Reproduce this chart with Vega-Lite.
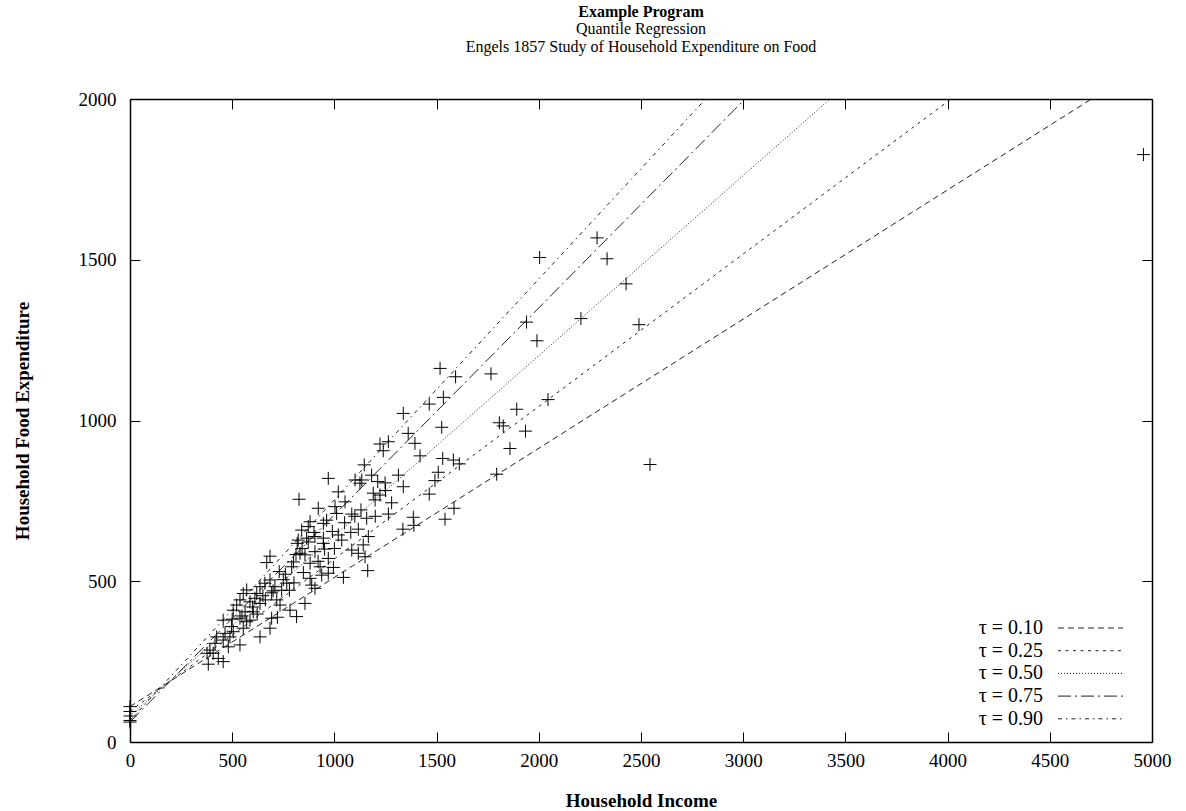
{
  "$schema": "https://vega.github.io/schema/vega-lite/v6.json",
  "width": 1022,
  "height": 643,
  "autosize": {"type": "none"},
  "padding": {"left": 130, "top": 99, "right": 34, "bottom": 69},
  "background": "white",
  "config": {"view": {"stroke": null}, "font": "Liberation Serif"},
  "title": {
    "text": "Example Program",
    "subtitle": ["Quantile Regression", "Engels 1857 Study of Household Expenditure on Food"],
    "font": "Liberation Serif", "fontSize": 16, "fontWeight": "bold", "color": "black",
    "subtitleFont": "Liberation Serif", "subtitleFontSize": 16, "subtitleColor": "black",
    "subtitlePadding": 1, "subtitleLineHeight": 18, "offset": 35, "anchor": "middle", "frame": "group"
  },
  "datasets": {
    "lines": [
      {"tau": "τ = 0.10", "income": 0, "food": 110.14},
      {"tau": "τ = 0.10", "income": 4704, "food": 2000},
      {"tau": "τ = 0.25", "income": 0, "food": 95.48},
      {"tau": "τ = 0.25", "income": 4017, "food": 2000},
      {"tau": "τ = 0.50", "income": 0, "food": 81.48},
      {"tau": "τ = 0.50", "income": 3425, "food": 2000},
      {"tau": "τ = 0.75", "income": 0, "food": 62.4},
      {"tau": "τ = 0.75", "income": 3009, "food": 2000},
      {"tau": "τ = 0.90", "income": 0, "food": 67.35},
      {"tau": "τ = 0.90", "income": 2816, "food": 2000}
    ],
    "points": [
      {"income": 0, "food": 110}, {"income": 0, "food": 95}, {"income": 0, "food": 81}, {"income": 0, "food": 67}, {"income": 0, "food": 62},
      {"income": 818, "food": 618}, {"income": 812, "food": 583}, {"income": 685, "food": 578}, {"income": 669, "food": 558},
      {"income": 730, "food": 530}, {"income": 791, "food": 545}, {"income": 767, "food": 494}, {"income": 802, "food": 495},
      {"income": 685, "food": 504}, {"income": 709, "food": 483}, {"income": 636, "food": 483}, {"income": 571, "food": 473},
      {"income": 554, "food": 462}, {"income": 693, "food": 464}, {"income": 611, "food": 447}, {"income": 587, "food": 436},
      {"income": 636, "food": 431}, {"income": 538, "food": 442}, {"income": 522, "food": 426}, {"income": 718, "food": 442},
      {"income": 734, "food": 426}, {"income": 783, "food": 410}, {"income": 815, "food": 390}, {"income": 693, "food": 385},
      {"income": 721, "food": 388}, {"income": 685, "food": 354}, {"income": 505, "food": 410}, {"income": 563, "food": 405},
      {"income": 603, "food": 405}, {"income": 456, "food": 379}, {"income": 538, "food": 385}, {"income": 571, "food": 374},
      {"income": 497, "food": 359}, {"income": 554, "food": 354}, {"income": 636, "food": 327}, {"income": 424, "food": 327},
      {"income": 489, "food": 327}, {"income": 456, "food": 317}, {"income": 416, "food": 307}, {"income": 538, "food": 302},
      {"income": 481, "food": 296}, {"income": 377, "food": 276}, {"income": 407, "food": 276}, {"income": 432, "food": 260},
      {"income": 456, "food": 250}, {"income": 383, "food": 242}, {"income": 391, "food": 286}, {"income": 505, "food": 343},
      {"income": 465, "food": 338}, {"income": 587, "food": 379}, {"income": 620, "food": 462}, {"income": 660, "food": 494},
      {"income": 881, "food": 556}, {"income": 930, "food": 545}, {"income": 995, "food": 543}, {"income": 848, "food": 527},
      {"income": 938, "food": 519}, {"income": 970, "food": 525}, {"income": 881, "food": 509}, {"income": 889, "food": 488},
      {"income": 905, "food": 478}, {"income": 1044, "food": 512}, {"income": 1163, "food": 533}, {"income": 856, "food": 431},
      {"income": 1223, "food": 927}, {"income": 1264, "food": 934}, {"income": 1239, "food": 906}, {"income": 1146, "food": 862},
      {"income": 970, "food": 820}, {"income": 1101, "food": 815}, {"income": 1134, "food": 815}, {"income": 1125, "food": 805},
      {"income": 1182, "food": 830}, {"income": 1212, "food": 810}, {"income": 1248, "food": 806}, {"income": 1313, "food": 830},
      {"income": 1337, "food": 794}, {"income": 1019, "food": 778}, {"income": 1190, "food": 774}, {"income": 1223, "food": 768},
      {"income": 1199, "food": 753}, {"income": 1052, "food": 747}, {"income": 1280, "food": 744}, {"income": 827, "food": 755},
      {"income": 921, "food": 727}, {"income": 1003, "food": 732}, {"income": 1011, "food": 711}, {"income": 1085, "food": 709},
      {"income": 1158, "food": 696}, {"income": 1264, "food": 709}, {"income": 881, "food": 685}, {"income": 962, "food": 690},
      {"income": 946, "food": 680}, {"income": 840, "food": 659}, {"income": 872, "food": 670}, {"income": 1117, "food": 662},
      {"income": 1019, "food": 644}, {"income": 905, "food": 639}, {"income": 864, "food": 634}, {"income": 946, "food": 634},
      {"income": 1036, "food": 628}, {"income": 823, "food": 628}, {"income": 1166, "food": 639}, {"income": 946, "food": 618},
      {"income": 1141, "food": 613}, {"income": 1085, "food": 597}, {"income": 1117, "food": 587}, {"income": 832, "food": 587},
      {"income": 905, "food": 592}, {"income": 856, "food": 582}, {"income": 970, "food": 571}, {"income": 1150, "food": 576},
      {"income": 1335, "food": 662},
      {"income": 1394, "food": 929}, {"income": 1419, "food": 890}, {"income": 1530, "food": 882}, {"income": 1582, "food": 877},
      {"income": 1611, "food": 865}, {"income": 1859, "food": 913}, {"income": 1508, "food": 839}, {"income": 1492, "food": 813},
      {"income": 1464, "food": 771}, {"income": 1794, "food": 833}, {"income": 1386, "food": 699}, {"income": 1585, "food": 727},
      {"income": 1541, "food": 693}, {"income": 1389, "food": 674},
      {"income": 1517, "food": 1162}, {"income": 1593, "food": 1136}, {"income": 1766, "food": 1145}, {"income": 1940, "food": 1306},
      {"income": 1533, "food": 1072}, {"income": 1464, "food": 1051}, {"income": 1337, "food": 1022}, {"income": 1525, "food": 979},
      {"income": 1361, "food": 960}, {"income": 1892, "food": 1035}, {"income": 1807, "food": 993}, {"income": 1826, "food": 983},
      {"income": 1935, "food": 967},
      {"income": 2004, "food": 1507}, {"income": 2285, "food": 1568}, {"income": 2334, "food": 1503}, {"income": 2427, "food": 1425},
      {"income": 2206, "food": 1317}, {"income": 2490, "food": 1298}, {"income": 1991, "food": 1248}, {"income": 2045, "food": 1065},
      {"income": 2544, "food": 863}, {"income": 4958, "food": 1827},
      {"income": 600, "food": 420}, {"income": 650, "food": 455}, {"income": 700, "food": 470}, {"income": 750, "food": 505},
      {"income": 760, "food": 522}, {"income": 800, "food": 560}, {"income": 842, "food": 602}, {"income": 872, "food": 622},
      {"income": 900, "food": 652}, {"income": 952, "food": 600}, {"income": 990, "food": 655}, {"income": 1050, "food": 682},
      {"income": 1100, "food": 702}, {"income": 500, "food": 382}, {"income": 548, "food": 392}, {"income": 622, "food": 398},
      {"income": 662, "food": 442}, {"income": 742, "food": 472}, {"income": 780, "food": 472}, {"income": 920, "food": 562},
      {"income": 1000, "food": 602}, {"income": 1080, "food": 652}, {"income": 1130, "food": 722}, {"income": 1200, "food": 702},
      {"income": 1250, "food": 782}
    ]
  },
  "layer": [
    {
      "data": {"name": "lines"},
      "mark": {"type": "line", "strokeWidth": 1, "color": "#222"},
      "encoding": {
        "x": {
          "field": "income", "type": "quantitative",
          "scale": {"domain": [0, 5000], "nice": false, "zero": false},
          "axis": {
            "orient": "bottom", "values": [0, 500, 1000, 1500, 2000, 2500, 3000, 3500, 4000, 4500, 5000],
            "format": "d",
            "grid": false, "tickSize": -10, "tickColor": "black", "tickWidth": 1,
            "domainColor": "black", "domainWidth": 1.5,
            "labelFont": "Liberation Serif", "labelFontSize": 19, "labelColor": "black",
            "labelPadding": 19, "labelFlush": false, "labelOverlap": false,
            "title": "Household Income", "titleFont": "Liberation Serif", "titleFontSize": 19,
            "titleFontWeight": "bold", "titleColor": "black",
            "titleX": 511, "titleY": 58, "titleBaseline": "middle", "titleAlign": "center"
          }
        },
        "y": {
          "field": "food", "type": "quantitative",
          "scale": {"domain": [0, 2000], "nice": false, "zero": false},
          "axis": {
            "orient": "left", "values": [0, 500, 1000, 1500, 2000],
            "format": "d",
            "grid": false, "tickSize": -10, "tickColor": "black", "tickWidth": 1,
            "domainColor": "black", "domainWidth": 1.5,
            "labelFont": "Liberation Serif", "labelFontSize": 19, "labelColor": "black",
            "labelPadding": 24, "labelFlush": false, "labelOverlap": false,
            "title": "Household Food Expenditure", "titleFont": "Liberation Serif", "titleFontSize": 19,
            "titleFontWeight": "bold", "titleColor": "black", "titleAngle": -90,
            "titleX": -108, "titleY": 321.5, "titleBaseline": "middle", "titleAlign": "center"
          }
        },
        "strokeDash": {
          "field": "tau", "type": "nominal",
          "scale": {
            "domain": ["τ = 0.10", "τ = 0.25", "τ = 0.50", "τ = 0.75", "τ = 0.90"],
            "range": [[6, 4], [3, 4.5], [1, 2], [13, 4, 2, 4], [4, 4, 1.5, 4]]
          },
          "legend": {
            "orient": "none", "legendX": 918, "legendY": 519, "title": null, "padding": 0,
            "symbolType": "M0,0L10,0", "symbolSize": 169, "symbolStrokeWidth": 1,
            "symbolStrokeColor": "#222", "symbolFillColor": "transparent",
            "labelAlign": "right", "labelOffset": -25,
            "labelFont": "Liberation Serif", "labelFontSize": 20, "labelColor": "black",
            "rowPadding": 2.7
          }
        }
      }
    },
    {
      "data": {"name": "points"},
      "mark": {"type": "point", "shape": "M-1,0L1,0M0,-1L0,1", "size": 169, "filled": false, "stroke": "black", "strokeWidth": 1, "opacity": 1},
      "encoding": {
        "x": {
          "field": "income", "type": "quantitative",
          "axis": {
            "orient": "top", "values": [0, 500, 1000, 1500, 2000, 2500, 3000, 3500, 4000, 4500, 5000],
            "grid": false, "labels": false, "title": null, "tickSize": -10, "tickColor": "black", "tickWidth": 1,
            "domainColor": "black", "domainWidth": 1.5
          }
        },
        "y": {
          "field": "food", "type": "quantitative",
          "axis": {
            "orient": "right", "values": [0, 500, 1000, 1500, 2000],
            "grid": false, "labels": false, "title": null, "tickSize": -10, "tickColor": "black", "tickWidth": 1,
            "domainColor": "black", "domainWidth": 1.5
          }
        }
      }
    }
  ],
  "resolve": {"axis": {"x": "independent", "y": "independent"}}
}
